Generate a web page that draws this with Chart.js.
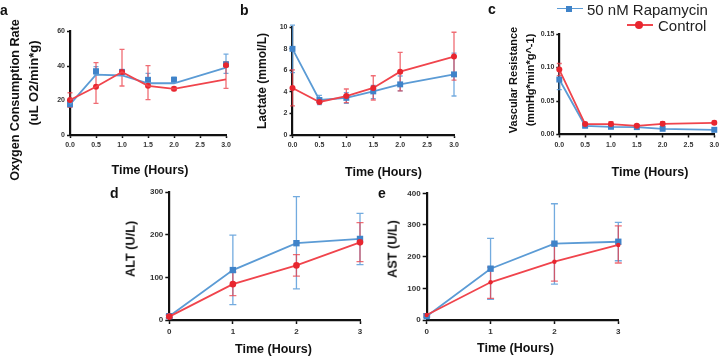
<!DOCTYPE html>
<html><head><meta charset="utf-8">
<script src="https://cdn.jsdelivr.net/npm/chart.js@4.4.1/dist/chart.umd.min.js"></script>
<style>
html,body{margin:0;padding:0;background:#fff;}
body{width:720px;height:357px;position:relative;overflow:hidden;font-family:"Liberation Sans",Arial,sans-serif;}
canvas{position:absolute;}
.t{position:absolute;white-space:nowrap;font-weight:bold;color:#111;transform:translate(-50%,-50%);line-height:1;}
.r{transform:translate(-50%,-50%) rotate(-90deg);}
.lbl{position:absolute;font-weight:bold;font-size:14px;color:#111;line-height:1;}
.leg{position:absolute;white-space:nowrap;font-size:15px;color:#222;line-height:1;transform:translateY(-50%);}
.ln{position:absolute;height:1.8px;}
</style></head><body>
<canvas id="ca"></canvas><canvas id="cb"></canvas><canvas id="cc"></canvas><canvas id="cd"></canvas><canvas id="ce"></canvas>

<div class="lbl" style="left:0px;top:3px">a</div>
<div class="lbl" style="left:240px;top:3px">b</div>
<div class="lbl" style="left:488px;top:2px">c</div>
<div class="lbl" style="left:110px;top:186px">d</div>
<div class="lbl" style="left:378px;top:186px">e</div>

<div class="t" style="left:150px;top:170px;font-size:12.5px">Time (Hours)</div>
<div class="t" style="left:383.5px;top:171.5px;font-size:12.5px">Time (Hours)</div>
<div class="t" style="left:650px;top:171.5px;font-size:12.5px">Time (Hours)</div>
<div class="t" style="left:273.5px;top:349px;font-size:12.5px">Time (Hours)</div>
<div class="t" style="left:515.5px;top:348px;font-size:12.5px">Time (Hours)</div>

<div class="t r" style="left:15px;top:100px;font-size:12.6px">Oxygen Consumption Rate</div>
<div class="t r" style="left:33px;top:83px;font-size:13px">(uL O2/min*g)</div>
<div class="t r" style="left:261.7px;top:81px;font-size:12px">Lactate (mmol/L)</div>
<div class="t r" style="left:513px;top:80px;font-size:11px">Vascular Resistance</div>
<div class="t r" style="left:530px;top:80px;font-size:11px">(mmHg*min*g^-1)</div>
<div class="t r" style="left:131px;top:248.5px;font-size:12.7px">ALT (U/L)</div>
<div class="t r" style="left:392.5px;top:249px;font-size:12.7px">AST (U/L)</div>

<div class="ln" style="left:557px;top:7.6px;width:26px;background:#5b9bd5"></div>
<div style="position:absolute;left:566px;top:5.5px;width:6px;height:6px;background:#3f83c9"></div>
<div class="leg" style="left:587px;top:8.5px">50 nM Rapamycin</div>
<div class="ln" style="left:627px;top:24.1px;width:26px;background:#f0444c"></div>
<div style="position:absolute;left:635px;top:21px;width:8px;height:8px;border-radius:50%;background:#e8262f"></div>
<div class="leg" style="left:658px;top:25px">Control</div>

<script>
// ---------- data ----------
const timesHalf = [0, 0.5, 1, 1.5, 2, 3];
const timesHour = [0, 1, 2, 3];
const xTickHalf = ['0.0','0.5','1.0','1.5','2.0','2.5','3.0'];

// a: Oxygen consumption rate
const aRapLine = [17.8, 35, 34.5, 30, 30, 39];
const aRapMean = [17.8, 37, 36.5, 32, 32, 41];
const aRapLo   = [16.5, 35, 35, 29, 30.5, 35.7];
const aRapHi   = [19.5, 39.6, 38, 35.7, 33.5, 46.9];
const aCtlLine = [20.3, 28, 36.5, 28.5, 26.8, 32.2];
const aCtlMean = [20.3, 28, 36.5, 28.5, 26.8, 40.5];
const aCtlLo   = [16, 18.3, 28.4, 20.5, 25.8, 27];
const aCtlHi   = [24.5, 41.9, 49.6, 40.2, 27.8, 42.5];

// b: Lactate
const bRapMean = [8.0, 3.25, 3.45, 4.05, 4.7, 5.63];
const bRapLo   = [5.8, 2.82, 2.94, 3.37, 4.09, 3.62];
const bRapHi   = [10.2, 3.68, 3.93, 4.6, 5.48, 7.6];
const bCtlMean = [4.37, 3.07, 3.62, 4.37, 5.88, 7.28];
const bCtlLo   = [2.7, 2.97, 3.0, 3.25, 4.1, 5.1];
const bCtlHi   = [6.04, 3.17, 4.27, 5.5, 7.68, 9.54];

// c: Vascular resistance
const cRapMean = [0.082, 0.013, 0.0115, 0.011, 0.0085, 0.007];
const cRapLo   = [0.067, 0.011, 0.0095, 0.009, 0.007, 0.0055];
const cRapHi   = [0.097, 0.015, 0.0135, 0.013, 0.010, 0.0085];
const cCtlMean = [0.097, 0.0155, 0.0155, 0.013, 0.016, 0.0175];
const cCtlLo   = [0.088, 0.013, 0.012, 0.011, 0.013, 0.015];
const cCtlHi   = [0.106, 0.018, 0.019, 0.015, 0.019, 0.020];

// d: ALT
const dRapMean = [9, 117, 180, 190];
const dRapLo   = [5, 36, 73, 130];
const dRapHi   = [13, 199, 289, 250];
const dCtlMean = [8, 84, 128, 182];
const dCtlLo   = [5, 57, 103, 137];
const dCtlHi   = [11, 112, 153, 228];

// e: AST
const eRapMean = [12, 162, 241, 247];
const eRapLo   = [8, 65, 113, 187];
const eRapHi   = [16, 258, 367, 308];
const eCtlMean = [16, 119, 184, 237];
const eCtlLo   = [12, 68, 123, 180];
const eCtlHi   = [20, 167, 243, 297];

// ---------- style ----------
const BLUE_LINE = '#5b9bd5', BLUE_MK = '#3f83c9', BLUE_ERR = 'rgba(80,150,215,0.8)';
const RED_LINE = '#f0444c', RED_MK = '#e8262f', RED_ERR = 'rgba(235,60,70,0.75)';

const pts = (xs, ys) => xs.map((x, i) => ({x, y: ys[i]}));

const errorBars = {
  id: 'errorBars',
  beforeDatasetsDraw(chart) {
    const ctx = chart.ctx, xs = chart.scales.x, ys = chart.scales.y;
    chart.data.datasets.forEach(ds => {
      if (!ds.errLo) return;
      ctx.save();
      ctx.strokeStyle = ds.errColor;
      ctx.lineWidth = 1.3;
      const cw = ds.capW || 3.5;
      ds.data.forEach((p, i) => {
        const px = xs.getPixelForValue(p.x);
        const y1 = ys.getPixelForValue(ds.errLo[i]);
        const y2 = ys.getPixelForValue(ds.errHi[i]);
        ctx.beginPath();
        ctx.moveTo(px, y1); ctx.lineTo(px, y2);
        ctx.moveTo(px - cw, y1); ctx.lineTo(px + cw, y1);
        ctx.moveTo(px - cw, y2); ctx.lineTo(px + cw, y2);
        ctx.stroke();
      });
      ctx.restore();
    });
  }
};

function lineDs(xs, ys, color, order) {
  return {data: pts(xs, ys), borderColor: color, borderWidth: 1.8, pointRadius: 0,
          showLine: true, clip: false, order: order};
}
function markDs(xs, ys, lo, hi, color, errColor, style, radius, order, capW) {
  return {data: pts(xs, ys), showLine: false, pointStyle: style, pointRadius: radius,
          pointBackgroundColor: color, pointBorderColor: color, pointBorderWidth: 0,
          borderColor: color, clip: false, order: order,
          errLo: lo, errHi: hi, errColor: errColor, capW: capW};
}
function fullDs(xs, ys, lo, hi, lineColor, mkColor, errColor, style, radius, order, capW) {
  const d = markDs(xs, ys, lo, hi, mkColor, errColor, style, radius, order, capW);
  d.showLine = true; d.borderColor = lineColor; d.borderWidth = 1.8;
  return d;
}

function panel(id, rect, plot, cfg) {
  const cv = document.getElementById(id);
  cv.width = rect.w; cv.height = rect.h;
  cv.style.left = rect.x + 'px'; cv.style.top = rect.y + 'px';
  const tickFont = {family: '"Liberation Sans", Arial, sans-serif', weight: 'bold', size: cfg.tickSize};
  new Chart(cv, {
    type: 'line',
    data: {datasets: cfg.datasets},
    options: {
      responsive: false, animation: false, devicePixelRatio: 1,
      layout: {padding: {left: 0, top: plot.top - rect.y, right: rect.x + rect.w - plot.right, bottom: 0}},
      plugins: {legend: {display: false}, tooltip: {enabled: false}},
      scales: {
        x: {
          type: 'linear', min: 0, max: cfg.xMax,
          ticks: {stepSize: cfg.xStep, autoSkip: false, maxRotation: 0, font: tickFont, color: '#333',
                  padding: cfg.xPad, callback: cfg.xFmt},
          grid: {drawOnChartArea: false, drawTicks: true, tickLength: cfg.tickLen, tickWidth: 1.5, tickColor: '#111'},
          border: {color: '#111', width: 2.2},
          afterFit(s) { s.height = rect.y + rect.h - plot.bottom; s.paddingLeft = 0; s.paddingRight = 0; }
        },
        y: {
          type: 'linear', min: 0, max: cfg.yMax,
          ticks: {stepSize: cfg.yStep, autoSkip: false, font: tickFont, color: '#333',
                  padding: cfg.yPad, callback: cfg.yFmt},
          grid: {drawOnChartArea: false, drawTicks: true, tickLength: cfg.tickLen, tickWidth: 1.5, tickColor: '#111'},
          border: {color: '#111', width: 2.2},
          afterFit(s) { s.width = plot.left - rect.x; s.paddingTop = 0; s.paddingBottom = 0; }
        }
      }
    },
    plugins: [errorBars]
  });
}

const fmtHalf = (v) => { const i = Math.round(v * 2); return xTickHalf[i]; };
const fmtInt = (v) => String(Math.round(v));
const fmt2 = (v) => v.toFixed(2);

// a
panel('ca', {x: 0, y: 15, w: 240, h: 175}, {left: 70, right: 226, top: 31.5, bottom: 135}, {
  xMax: 3, xStep: 0.5, yMax: 60, yStep: 20, tickSize: 7, tickLen: 3, xPad: 3, yPad: 2,
  xFmt: fmtHalf, yFmt: fmtInt,
  datasets: [
    lineDs(timesHalf, aRapLine, BLUE_LINE, 2),
    markDs(timesHalf, aRapMean, aRapLo, aRapHi, BLUE_MK, BLUE_ERR, 'rect', 4.2, 2, 2.5),
    lineDs(timesHalf, aCtlLine, RED_LINE, 1),
    markDs(timesHalf, aCtlMean, aCtlLo, aCtlHi, RED_MK, RED_ERR, 'circle', 3, 1, 2.5)
  ]
});
// b
panel('cb', {x: 240, y: 15, w: 225, h: 175}, {left: 292.5, right: 454, top: 27.3, bottom: 135}, {
  xMax: 3, xStep: 0.5, yMax: 10, yStep: 2, tickSize: 7, tickLen: 3, xPad: 3, yPad: 2,
  xFmt: fmtHalf, yFmt: fmtInt,
  datasets: [
    fullDs(timesHalf, bRapMean, bRapLo, bRapHi, BLUE_LINE, BLUE_MK, BLUE_ERR, 'rect', 4.2, 2, 2.5),
    fullDs(timesHalf, bCtlMean, bCtlLo, bCtlHi, RED_LINE, RED_MK, RED_ERR, 'circle', 3, 1, 2.5)
  ]
});
// c
panel('cc', {x: 480, y: 15, w: 240, h: 175}, {left: 559.3, right: 714.3, top: 34, bottom: 134.5}, {
  xMax: 3, xStep: 0.5, yMax: 0.15, yStep: 0.05, tickSize: 7, tickLen: 3, xPad: 3, yPad: 2,
  xFmt: fmtHalf, yFmt: fmt2,
  datasets: [
    fullDs(timesHalf, cRapMean, cRapLo, cRapHi, BLUE_LINE, BLUE_MK, BLUE_ERR, 'rect', 4.2, 2, 2.5),
    fullDs(timesHalf, cCtlMean, cCtlLo, cCtlHi, RED_LINE, RED_MK, RED_ERR, 'circle', 3, 1, 2.5)
  ]
});
// d
panel('cd', {x: 100, y: 180, w: 280, h: 177}, {left: 169.3, right: 360, top: 192, bottom: 320}, {
  xMax: 3, xStep: 1, yMax: 300, yStep: 100, tickSize: 8, tickLen: 4, xPad: 3, yPad: 2,
  xFmt: fmtInt, yFmt: fmtInt,
  datasets: [
    fullDs(timesHour, dRapMean, dRapLo, dRapHi, BLUE_LINE, BLUE_MK, BLUE_ERR, 'rect', 4.5, 2, 3.5),
    fullDs(timesHour, dCtlMean, dCtlLo, dCtlHi, RED_LINE, RED_MK, RED_ERR, 'circle', 3.3, 1, 3.5)
  ]
});
// e
panel('ce', {x: 380, y: 180, w: 260, h: 177}, {left: 426.7, right: 618.3, top: 193.3, bottom: 320}, {
  xMax: 3, xStep: 1, yMax: 400, yStep: 100, tickSize: 8, tickLen: 4, xPad: 3, yPad: 2,
  xFmt: fmtInt, yFmt: fmtInt,
  datasets: [
    fullDs(timesHour, eRapMean, eRapLo, eRapHi, BLUE_LINE, BLUE_MK, BLUE_ERR, 'rect', 4.5, 2, 3.5),
    fullDs(timesHour, eCtlMean, eCtlLo, eCtlHi, RED_LINE, RED_MK, RED_ERR, 'circle', 2.2, 1, 3.5)
  ]
});
</script>
</body></html>
